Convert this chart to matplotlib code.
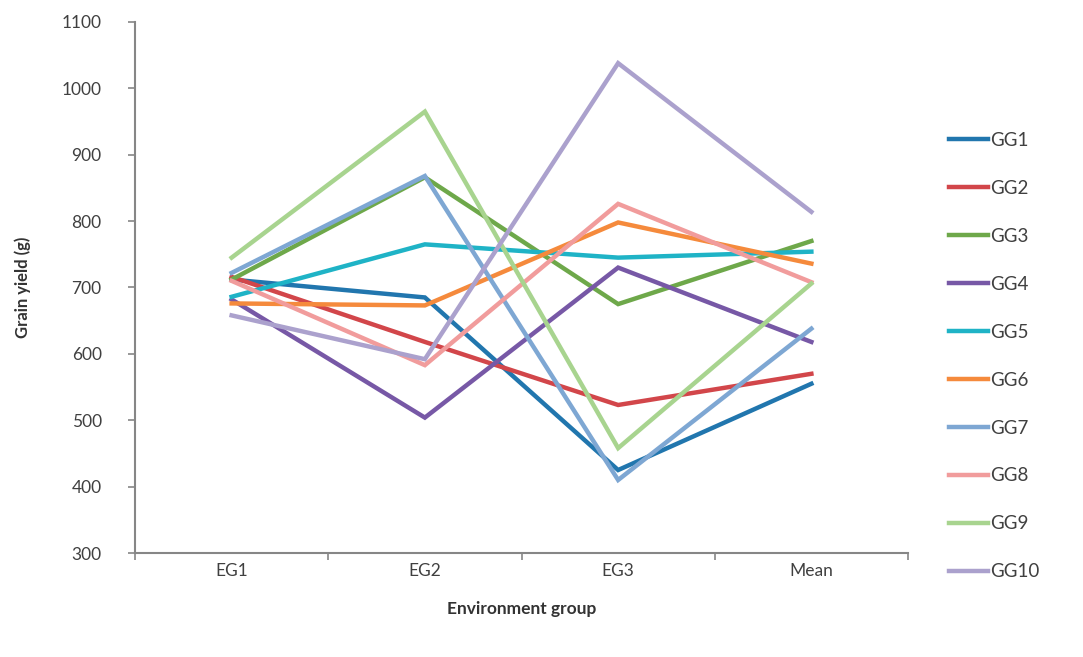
import matplotlib
matplotlib.use("Agg")
import matplotlib.pyplot as plt

plt.rcParams['font.family'] = ['Lato', 'DejaVu Sans']

groups = ["EG1", "EG2", "EG3", "Mean"]
series_names = ["GG1", "GG2", "GG3", "GG4", "GG5", "GG6", "GG7", "GG8", "GG9", "GG10"]

gg1 = [712, 685, 425, 555]
gg2 = [716, 618, 523, 570]
gg3 = [712, 866, 675, 770]
gg4 = [682, 504, 730, 618]
gg5 = [686, 765, 745, 754]
gg6 = [676, 673, 798, 736]
gg7 = [722, 868, 410, 638]
gg8 = [710, 583, 826, 708]
gg9 = [745, 965, 458, 706]
gg10 = [658, 592, 1038, 814]

values = [gg1, gg2, gg3, gg4, gg5, gg6, gg7, gg8, gg9, gg10]
colors = ["#2176AE", "#D2464A", "#6EA84A", "#7758A6", "#1FB3C6",
          "#F58A3C", "#7EA7D3", "#F19C9C", "#A8D48F", "#ABA1CD"]

fig = plt.figure(figsize=(10.83, 6.57), dpi=100)
ax = fig.add_axes([135 / 1083, 1 - 553 / 657, 773 / 1083, 531 / 657])

x = list(range(len(groups)))
for name, vals, col in zip(series_names, values, colors):
    ax.plot(x, vals, color=col, lw=3.2, label=name, solid_joinstyle='miter')

ax.set_xlim(-0.5, 3.5)
ax.set_ylim(300, 1100)
ax.set_yticks(range(300, 1101, 100))
ax.set_xticks(x)
ax.set_xticklabels(groups)
ax.set_xticks([-0.5, 0.5, 1.5, 2.5, 3.5], minor=True)
ax.tick_params(axis='x', which='major', length=0, pad=7, labelsize=12.5, labelcolor='#404040')
ax.tick_params(axis='x', which='minor', length=5, color='#868686', width=1.2)
ax.tick_params(axis='y', length=5, color='#868686', width=1.2, pad=19, labelsize=12.5, labelcolor='#404040')

for s in ['top', 'right']:
    ax.spines[s].set_visible(False)
for s in ['left', 'bottom']:
    ax.spines[s].set_color('#868686')
    ax.spines[s].set_linewidth(1.5)

ax.set_ylabel("Grain yield (g)", fontweight='bold', fontsize=12, color='#333333', labelpad=22)
ax.set_xlabel("Environment group", fontweight='bold', fontsize=12.5, color='#333333', labelpad=16)

fig.legend(loc='upper left', bbox_to_anchor=(932 / 1083, 1 - 115 / 657), frameon=False,
           fontsize=13.5, handlelength=2.1, handletextpad=0.1, labelspacing=1.65,
           labelcolor='#404040')

fig.savefig("out.png", dpi=100, facecolor='white')
